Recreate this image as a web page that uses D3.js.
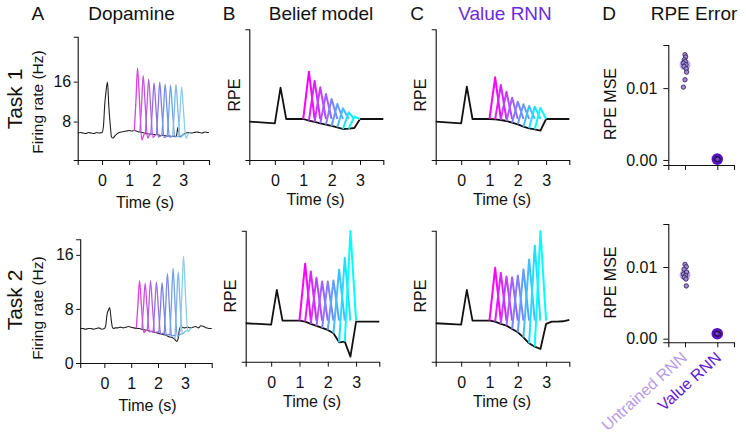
<!DOCTYPE html>
<html><head><meta charset="utf-8">
<script src="https://cdn.jsdelivr.net/npm/d3@7"></script>
<style>
body{margin:0;background:#fff}
svg{font-family:"Liberation Sans",Arial,Helvetica,sans-serif}
</style></head><body><svg id="c" width="746" height="437"></svg>
<script>
// ---------------- DATA ----------------
// Dopamine, Task 1 (omission / mean trace, Hz)
const daTime1 = [-0.9,-0.8,-0.7,-0.6,-0.5,-0.4,-0.3,-0.2,-0.1,0,0.05,0.1,0.15,0.2,0.25,0.3,0.35,0.4,0.5,0.6,0.7,0.8,0.9,1.0,1.1,1.2,1.3,1.4,1.5,1.6,1.7,1.8,1.9,2.0,2.1,2.2,2.3,2.4,2.5,2.6,2.7,2.75,2.8,2.85,2.9,3.0,3.1,3.2,3.3,3.4,3.5,3.6,3.7,3.8,3.9,3.95];
const daRate1 = [5.7,5.8,5.7,5.6,5.8,5.7,5.6,5.8,5.7,5.8,7.0,11.5,14.2,15.9,11.0,7.5,4.9,4.7,5.3,5.7,5.9,6.0,6.1,6.2,6.1,6.2,6.0,5.9,5.8,5.6,5.5,5.5,5.4,5.4,5.3,5.2,5.2,5.1,5.1,5.0,5.0,5.2,6.8,5.0,5.0,5.4,5.7,5.8,5.7,5.8,5.9,5.8,5.7,5.9,5.8,5.8];
// Dopamine, Task 2
const daTime2 = [-0.9,-0.8,-0.7,-0.6,-0.5,-0.4,-0.3,-0.2,-0.1,0,0.05,0.1,0.15,0.2,0.25,0.3,0.35,0.4,0.5,0.6,0.7,0.8,0.9,1.0,1.1,1.2,1.3,1.4,1.5,1.6,1.7,1.8,1.9,2.0,2.1,2.2,2.3,2.4,2.5,2.6,2.7,2.75,2.8,2.85,2.9,3.0,3.1,3.2,3.3,3.4,3.5,3.6,3.7,3.8,3.9,4.0];
const daRate2 = [5.1,5.1,5.0,5.1,5.1,5.0,5.1,5.2,5.0,5.1,5.5,7.2,7.8,8.2,6.6,5.3,5.1,5.2,5.2,5.3,5.2,5.3,5.4,5.3,5.2,5.1,5.1,5.0,4.9,4.8,4.7,4.6,4.5,4.4,4.3,4.2,4.1,3.9,3.8,3.6,3.2,3.6,5.0,5.4,5.3,5.2,5.3,5.2,5.3,5.4,5.2,5.5,5.4,5.2,5.1,5.1];
// Dopamine rewarded traces: sample offsets (s) around each peak, peak times, values (Hz)
const daOffsets = [-0.12,-0.06,0,0.07,0.16,0.24,0.32];
const daPeakTimes1 = [1.31,1.52,1.72,1.92,2.13,2.33,2.53,2.73,2.94];
const daTraces1 = [
  [6.1,12.0,18.7,12.5,4.3,5.4,5.9],
  [6.0,11.4,17.2,11.6,4.7,5.3,5.6],
  [5.7,11.0,16.5,11.2,4.8,5.2,5.5],
  [5.5,10.6,15.8,10.7,4.9,5.1,5.4],
  [5.4,10.6,15.9,10.8,4.8,5.0,5.3],
  [5.2,10.3,15.5,10.4,4.9,5.0,5.2],
  [5.1,10.2,15.3,10.3,4.9,5.0,5.1],
  [5.0,10.2,15.5,10.3,4.8,5.2,5.5],
  [5.0,10.0,15.0,10.0,4.6,5.5,5.8]
];
const daPeakTimes2 = [1.31,1.52,1.72,1.94,2.15,2.35,2.56,2.75,2.95];
const daTraces2 = [
  [5.1,8.6,12.2,8.6,4.5,4.8,4.9],
  [5.0,8.4,11.8,8.3,4.6,4.7,4.7],
  [4.8,8.5,12.2,8.4,4.5,4.6,4.6],
  [4.6,8.3,12.0,8.2,4.3,4.4,4.4],
  [4.4,8.1,11.9,8.0,4.1,4.2,4.2],
  [4.2,8.7,13.2,8.6,4.0,4.1,4.1],
  [3.9,9.0,14.0,9.0,3.9,4.2,4.3],
  [3.6,8.5,13.5,8.9,4.3,4.6,4.8],
  [4.6,10.2,15.8,10.3,4.6,5.0,5.2]
];
// Model RPEs (arbitrary units)
const modelTime = [-0.9,0,0.2,0.4,0.6,0.8,1.0,1.2,1.4,1.6,1.8,2.0,2.2,2.4,2.6,2.8,3.0,3.2,3.4,3.6,3.82];
const rewardTimes = [1.2,1.4,1.6,1.8,2.0,2.2,2.4,2.6,2.8];
const beliefOmit1 = [-0.08,-0.13,0.94,0,0,0,0,-0.05,-0.09,-0.13,-0.17,-0.21,-0.25,-0.30,-0.29,-0.27,0,0,0,0,0];
const beliefPeak1 = [1.42,1.15,0.95,0.75,0.60,0.45,0.32,0.20,0.07];
const beliefOmit2 = [-0.08,-0.12,0.92,0,0,0,0,-0.03,-0.10,-0.16,-0.22,-0.28,-0.38,-0.65,-0.63,-1.08,-0.03,-0.03,-0.03,-0.03,-0.03];
const beliefPeak2 = [1.70,1.47,1.28,1.17,1.17,1.20,1.53,1.88,2.68];
const rnnOmit1 = [-0.08,-0.13,0.97,0,0,0,0,-0.01,-0.03,-0.06,-0.11,-0.16,-0.23,-0.28,-0.31,-0.35,0,0,0,0,0];
const rnnPeak1 = [1.25,1.02,0.82,0.64,0.52,0.44,0.39,0.37,0.34];
const rnnOmit2 = [-0.08,-0.12,0.92,0,0,0,0,-0.03,-0.10,-0.15,-0.25,-0.35,-0.50,-0.68,-0.78,-0.85,-0.10,-0.03,-0.03,-0.02,0.02];
const rnnPeak2 = [1.58,1.43,1.32,1.30,1.35,1.53,1.83,2.25,2.68];
// RPE error (MSE)
const groups = ["Untrained RNN","Value RNN"];
const mseUntrained1 = [0.01465,0.01432,0.01395,0.01371,0.01348,0.01325,0.01302,0.01269,0.01223,0.01116,0.01014];
const jitUntrained1 = [0,0.02,-0.02,0.01,-0.05,0.03,-0.03,0.04,0.05,0,-0.05];
const mseValue1 = [0.00015,0.0001,0.00012,0.00008,0.00014,0.0001];
const jitValue1 = [0,0.02,-0.02,0.03,-0.03,0.01];
const mseUntrained2 = [0.01037,0.01004,0.00968,0.0093,0.009,0.0088,0.00857,0.00833,0.00736];
const jitUntrained2 = [0,0.04,-0.03,0.05,-0.05,0.02,-0.02,0.03,0.04];
const mseValue2 = [0.0007,0.00068,0.00072,0.00066,0.00071];
const jitValue2 = [0,0.02,-0.02,0.03,-0.01];
const mseMean1 = [0.01325,0.00012];
const mseMean2 = [0.00889,0.0007];
const timeTicks = [0,1,2,3];

// ---------------- DRAW ----------------
const svg = d3.select("#c");
const modelColor = i => d3.interpolateRgb("#ff00ff","#00ffff")(i/8);
const daColor = i => d3.piecewise(d3.interpolateRgb,["#e040e0","#b462e2","#7c7ce8","#6fa0ea","#8ccdee"])(i/8);

function txt(x,y,s,o={}){
  const t = svg.append("text").attr("x",x).attr("y",y).text(s)
    .attr("font-size",o.size||16).attr("fill",o.fill||"#111")
    .attr("text-anchor",o.anchor||"middle");
  if(o.rot!==undefined){t.attr("x",0).attr("y",0).attr("transform",`translate(${x},${y}) rotate(${o.rot})`);}
  return t;
}
function styleAxis(g){
  g.selectAll("path.domain").attr("stroke","#111").attr("stroke-width",1.1);
  g.selectAll(".tick line").attr("stroke","#111").attr("stroke-width",1);
  g.selectAll(".tick text").attr("font-size",16).attr("fill","#111")
    .attr("font-family",'"Liberation Sans",Arial,sans-serif');
}
function axes(x,y,opt){
  const gx = svg.append("g").attr("transform",`translate(0,${y.range()[0]})`)
    .call(d3.axisBottom(x).tickValues(opt.xt||timeTicks).tickSizeOuter(0).tickSize(5).tickPadding(opt.xpad||9.5).tickFormat(opt.xf||d3.format("d")));
  styleAxis(gx);
  const gy = svg.append("g").attr("transform",`translate(${x.range()[0]},0)`)
    .call(d3.axisLeft(y).tickValues(opt.yt||[]).tickSizeOuter(0).tickSize(opt.ys||4).tickPadding(opt.ypad||2).tickFormat(opt.yf||d3.format("d")));
  styleAxis(gy);
}

// ---- Panel A ----
function dopPanel(x,y,times,rates,peakTimes,traces,yt){
  axes(x,y,{yt:yt,ys:4,ypad:2.5});
  const line = d3.line().x(d=>x(d[0])).y(d=>y(d[1])).curve(d3.curveMonotoneX);
  svg.append("path").attr("d",line(times.map((t,i)=>[t,rates[i]])))
    .attr("fill","none").attr("stroke","#222").attr("stroke-width",1.1);
  traces.forEach((tr,i)=>{
    svg.append("path").attr("d",line(daOffsets.map((o,j)=>[peakTimes[i]+o,tr[j]])))
      .attr("fill","none").attr("stroke",daColor(i)).attr("stroke-width",1.3);
  });
}
const xA1 = d3.scaleLinear([-0.9,3.95],[77.7,209]);
const yA1 = d3.scaleLinear([0.3,25],[160,36.7]);
dopPanel(xA1,yA1,daTime1,daRate1,daPeakTimes1,daTraces1,[8,16]);
const xA2 = d3.scaleLinear([-0.9,4.0],[80.2,211.7]);
const yA2 = d3.scaleLinear([0,18.3],[363,239.3]);
dopPanel(xA2,yA2,daTime2,daRate2,daPeakTimes2,daTraces2,[0,8,16]);

// ---- Panels B, C ----
function modelPanel(x,y,omit,peaks){
  axes(x,y,{});
  const line = d3.line().x(d=>x(d[0])).y(d=>y(d[1]));
  svg.append("path").attr("d",line(modelTime.map((t,i)=>[t,omit[i]])))
    .attr("fill","none").attr("stroke","#111").attr("stroke-width",1.8).attr("stroke-linejoin","round");
  rewardTimes.forEach((T,i)=>{
    const k = modelTime.findIndex(t=>Math.abs(t-(T-0.2))<1e-6);
    const pts = [[modelTime[k],omit[k]],[T,peaks[i]],[T+0.2,0]];
    svg.append("path").attr("d",line(pts)).attr("fill","none")
      .attr("stroke",modelColor(i)).attr("stroke-width",2).attr("stroke-linejoin","round");
  });
}
const rpeDom = [-1.23,2.69];
modelPanel(d3.scaleLinear([-0.9,3.82],[249.3,383.3]), d3.scaleLinear(rpeDom,[160,29.3]), beliefOmit1, beliefPeak1);
modelPanel(d3.scaleLinear([-0.9,3.82],[245.7,379.3]), d3.scaleLinear(rpeDom,[361.7,230.7]), beliefOmit2, beliefPeak2);
modelPanel(d3.scaleLinear([-0.9,3.82],[435.7,569.3]), d3.scaleLinear(rpeDom,[160,29.3]), rnnOmit1, rnnPeak1);
modelPanel(d3.scaleLinear([-0.9,3.82],[435.7,569.3]), d3.scaleLinear(rpeDom,[361.7,230.7]), rnnOmit2, rnnPeak2);

// ---- Panel D ----
const xD = d3.scalePoint(groups,[668.3,734]).padding(0.517);
function msePanel(y,unt,jU,val,jV,means){
  axes(xD,y,{xt:groups,xf:()=>"",yt:[0,0.01],yf:d3.format(".2f"),ys:5,ypad:6});
  const step = xD.step();
  svg.append("circle").attr("cx",xD(groups[0])).attr("cy",y(means[0])).attr("r",5.5)
    .attr("fill","#b399e6").attr("opacity",0.8);
  svg.append("circle").attr("cx",xD(groups[1])).attr("cy",y(means[1])).attr("r",5.8)
    .attr("fill","#5514c2");
  unt.forEach((v,i)=>svg.append("circle").attr("cx",xD(groups[0])+jU[i]*step).attr("cy",y(v)).attr("r",2.2)
    .attr("fill","#a08ad8").attr("stroke","#2a1d4d").attr("stroke-width",0.8));
  val.forEach((v,i)=>svg.append("circle").attr("cx",xD(groups[1])+jV[i]*step).attr("cy",y(v)).attr("r",2.2)
    .attr("fill","#7a46d4").attr("stroke","#150838").attr("stroke-width",0.8));
}
msePanel(d3.scaleLinear([-0.0007,0.016],[165,45]),mseUntrained1,jitUntrained1,mseValue1,jitValue1,mseMean1);
msePanel(d3.scaleLinear([-0.0005,0.016],[342.3,224]),mseUntrained2,jitUntrained2,mseValue2,jitValue2,mseMean2);

// ---- Text ----
const F = 19;
txt(37.8,19.5,"A",{size:F}); txt(131.5,19.5,"Dopamine",{size:F});
txt(229,19.5,"B",{size:F}); txt(321,19.5,"Belief model",{size:F});
txt(417,19.5,"C",{size:F}); txt(505,19.5,"Value RNN",{size:F,fill:"#6c2bd9"});
txt(609,19.5,"D",{size:F}); txt(694,19.5,"RPE Error",{size:F});
txt(21.5,99,"Task 1",{size:21,rot:-90});
txt(21.5,300,"Task 2",{size:21,rot:-90});
txt(43.3,102,"Firing rate (Hz)",{size:15.5,rot:-90});
txt(43.3,308,"Firing rate (Hz)",{size:15.5,rot:-90});
txt(240,95,"RPE",{rot:-90}); txt(235.7,296,"RPE",{rot:-90});
txt(425.7,95,"RPE",{rot:-90}); txt(425.7,296,"RPE",{rot:-90});
txt(615.7,104,"RPE MSE",{rot:-90}); txt(615.7,282.5,"RPE MSE",{rot:-90});
txt(145,208,"Time (s)"); txt(147.5,410.5,"Time (s)");
txt(315.6,205,"Time (s)"); txt(312,406.5,"Time (s)");
txt(502,205,"Time (s)"); txt(502,406.5,"Time (s)");
txt(xD(groups[0])+3,359,"Untrained RNN",{anchor:"end",rot:-42,fill:"#b89be6"});
txt(xD(groups[1])+5,359,"Value RNN",{anchor:"end",rot:-42,fill:"#6118d0"});
</script></body></html>
